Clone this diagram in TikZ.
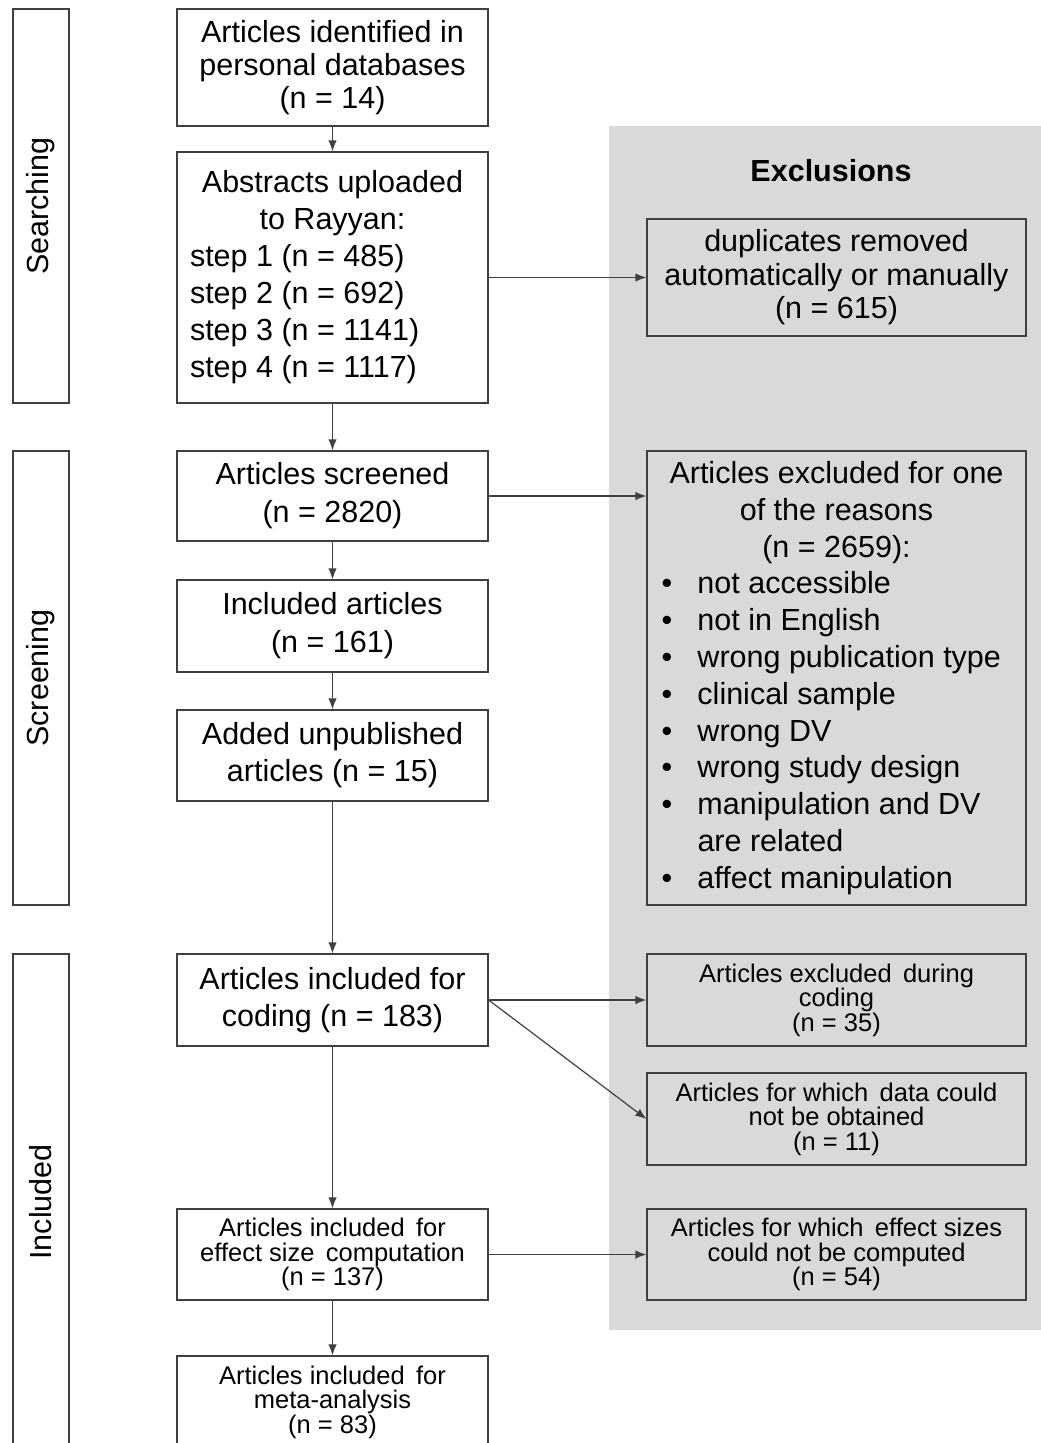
\documentclass[tikz,border=0pt]{standalone}
\usepackage{fontspec}
\setmainfont{Liberation Sans}
\usetikzlibrary{arrows.meta}

\definecolor{panelgray}{RGB}{217,217,217}
\definecolor{edgegray}{RGB}{64,64,64}
\newcommand{\bigtext}{\fontsize{30.5}{37}\selectfont}
\newcommand{\smalltext}{\fontsize{25.5}{24.5}\selectfont}
\newcommand{\bul}[1]{\makebox[36pt][l]{\textbullet}#1}

\tikzset{
  mainbox/.style={draw=edgegray, line width=1.2pt, fill=white, minimum width=311pt, inner sep=0pt, align=center, font=\bigtext},
  exclbox/.style={draw=edgegray, line width=1.2pt, minimum width=379pt, inner sep=0pt, align=center, font=\bigtext},
  stagebox/.style={draw=edgegray, line width=1.2pt, rotate=90, minimum height=56pt, inner sep=0pt, font=\bigtext},
  flow/.style={draw=edgegray, line width=1.2pt, -{Latex[length=11pt,width=8.5pt]}}
}

\begin{document}
\begin{tikzpicture}[x=1pt,y=-1pt]
\useasboundingbox (0,0) rectangle (1041,1443);
\clip (0,0) rectangle (1041,1443);
% exclusions panel
\fill[panelgray] (609,126) rectangle (1041,1330);
\node[font=\bfseries\fontsize{30.5}{36}\selectfont] (excltitle) at (831,171) {Exclusions};

% stages
\node[stagebox, minimum width=394pt] (searching) at (41,206) {Searching};
\node[stagebox, minimum width=454pt] (screening) at (41,678) {Screening};
\node[stagebox, minimum width=496pt] (included) at (41,1202) {Included};

% main column
\node[mainbox, minimum height=117pt, font=\fontsize{30.5}{33}\selectfont] (personal) at (332.5,67.5) {Articles identified in\\personal databases\\(n = 14)};
\node[mainbox, minimum height=251pt] (upload) at (332.5,277.5) {\parbox{285pt}{\centering Abstracts uploaded\\to Rayyan:\par\raggedright step 1 (n = 485)\\step 2 (n = 692)\\step 3 (n = 1141)\\step 4 (n = 1117)}};
\node[mainbox, minimum height=90pt, font=\fontsize{30.5}{38}\selectfont] (screened) at (332.5,496) {Articles screened\\(n = 2820)};
\node[mainbox, minimum height=92pt, font=\fontsize{30.5}{38}\selectfont] (inclart) at (332.5,626) {Included articles\\(n = 161)};
\node[mainbox, minimum height=91pt] (added) at (332.5,755.5) {Added unpublished\\articles (n = 15)};
\node[mainbox, minimum height=92pt] (coding) at (332.5,1000) {Articles included for\\coding (n = 183)};
\node[mainbox, minimum height=91pt, font=\smalltext] (effect) at (332.5,1254.5) {Articles included\, for\\effect size\, computation\\(n = 137)};
\node[mainbox, minimum height=92pt, font=\smalltext] (meta) at (332.5,1402) {Articles included\, for\\meta-analysis\\(n = 83)};

% exclusion boxes
\node[exclbox, minimum height=117pt, font=\fontsize{30.5}{33.5}\selectfont] (dupl) at (836.5,277.5) {duplicates removed\\automatically or manually\\(n = 615)};
\node[exclbox, minimum height=454pt, font=\fontsize{30.5}{36.8}\selectfont] (reasons) at (836.5,678) {\parbox{350pt}{\centering Articles excluded for one\\of the reasons\\(n = 2659):\par\raggedright
  \bul{not accessible}\\\bul{not in English}\\\bul{wrong publication type}\\\bul{clinical sample}\\\bul{wrong DV}\\\bul{wrong study design}\\\bul{manipulation and DV}\\\hspace*{36pt}are related\\\bul{affect manipulation}}};
\node[exclbox, minimum height=92pt, font=\smalltext] (codexcl) at (836.5,1000) {Articles excluded\, during\\coding\\(n = 35)};
\node[exclbox, minimum height=92pt, font=\smalltext] (nodata) at (836.5,1119) {Articles for which\, data could\\not be obtained\\(n = 11)};
\node[exclbox, minimum height=91pt, font=\smalltext] (noes) at (836.5,1254.5) {Articles for which\, effect sizes\\could not be computed\\(n = 54)};

% connectors
\draw[flow] (personal) -- (upload);
\draw[flow] (upload) -- (screened);
\draw[flow] (screened) -- (inclart);
\draw[flow] (inclart) -- (added);
\draw[flow] (added) -- (coding);
\draw[flow] (coding) -- (effect);
\draw[flow] (effect) -- (meta);
\draw[flow] (upload.east) -- (dupl.west);
\draw[flow] (screened.east) -- (screened.east -| reasons.west);
\draw[flow] (coding.east) -- (codexcl.west);
\draw[flow] (coding.east) -- (nodata.west);
\draw[flow] (effect.east) -- (noes.west);
\end{tikzpicture}
\end{document}
